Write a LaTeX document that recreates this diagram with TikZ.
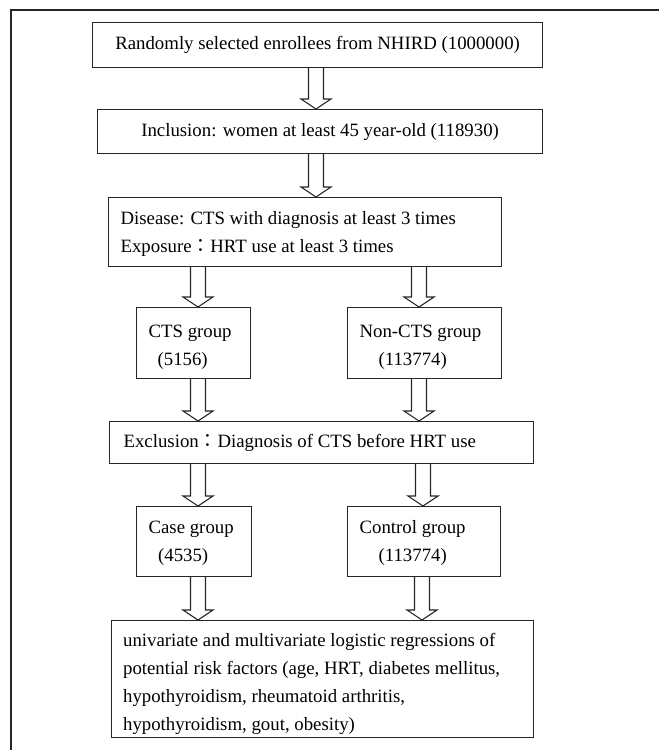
\documentclass[tikz,border=0pt]{standalone}
\usepackage{fontspec}
\setmainfont{Liberation Serif}
\newfontfamily\cjk{Noto Sans CJK TC}
\usetikzlibrary{calc}
\usetikzlibrary{positioning}

% hollow block arrow: from node #1 down to node #2, along column #3
\newcommand\fatarrow[3]{%
  \draw[fatarr] ($(#1.south -| #3)+(-7.5,0)$) -- ($(#2.north -| #3)+(-7.5,-10)$) -- ($(#2.north -| #3)+(-15,-10)$)
    -- (#2.north -| #3) -- ($(#2.north -| #3)+(15,-10)$) -- ($(#2.north -| #3)+(7.5,-10)$) -- ($(#1.south -| #3)+(7.5,0)$);}
\newcommand\fcolon{{\cjk ：}}

\begin{document}
\begin{tikzpicture}[x=1bp, y=-1bp,
  box/.style={draw=black!85, line width=1.2bp, anchor=north west, inner ysep=0pt,
    font=\fontsize{18.8bp}{28bp}\selectfont},
  lbox/.style={box, align=flush left, inner xsep=12bp},
  fatarr/.style={draw=black!85, line width=1.1bp, fill=white, line join=miter}]
\useasboundingbox (0,0) rectangle (659,750);
\draw[black!85, line width=1.5bp] (11,750) -- (11,10) -- (659,10);

% columns of the arrows
\coordinate (cm) at (316,0);
\coordinate (cl) at (198,0);
\coordinate (cr) at (419,0);
\coordinate (cs) at (423,0);
\coordinate (ct) at (422,0);

\node[box, minimum width=450bp, minimum height=45bp] (enrol) at (92,22) {Randomly selected enrollees from NHIRD (1000000)};
\node[box, minimum width=445bp, minimum height=44bp] (incl) at (97,109) {Inclusion: women at least 45 year-old (118930)};
\node[lbox, text width=369bp, minimum height=69bp, text height=14bp, text depth=29bp] (dis) at (108,197) {Disease: CTS with diagnosis at least 3 times\\Exposure\fcolon HRT use at least 3 times};
\node[lbox, text width=90bp, minimum height=71bp, text height=16bp, text depth=27bp] (cts) at (136,307) {CTS group\\\hspace*{9bp}(5156)};
\node[lbox, text width=130bp, minimum height=71bp, text height=16bp, text depth=27bp] (noncts) at (347,307) {Non-CTS group\\\hspace*{19bp}(113774)};
\node[lbox, inner xsep=14bp, text width=396bp, minimum height=42bp] (excl) at (109,421) {Exclusion\fcolon Diagnosis of CTS before HRT use};
\node[lbox, text width=91bp, minimum height=70bp, text height=14bp, text depth=30bp] (case) at (136,506) {Case group\\\hspace*{9.5bp}(4535)};
\node[lbox, text width=129bp, minimum height=70bp, text height=14bp, text depth=30bp] (ctrl) at (347,506) {Control group\\\hspace*{19bp}(113774)};
\node[lbox, inner xsep=11.5bp, text width=399bp, minimum height=117bp, text height=17bp, text depth=82bp] (regr) at (111,620) {univariate and multivariate logistic regressions of\\potential risk factors (age, HRT, diabetes mellitus,\\hypothyroidism, rheumatoid arthritis,\\hypothyroidism, gout, obesity)};

\fatarrow{enrol}{incl}{cm}
\fatarrow{incl}{dis}{cm}
\fatarrow{dis}{cts}{cl}
\fatarrow{dis}{noncts}{cr}
\fatarrow{cts}{excl}{cl}
\fatarrow{noncts}{excl}{cr}
\fatarrow{excl}{case}{cl}
\fatarrow{excl}{ctrl}{cs}
\fatarrow{case}{regr}{cl}
\fatarrow{ctrl}{regr}{ct}
\end{tikzpicture}
\end{document}
